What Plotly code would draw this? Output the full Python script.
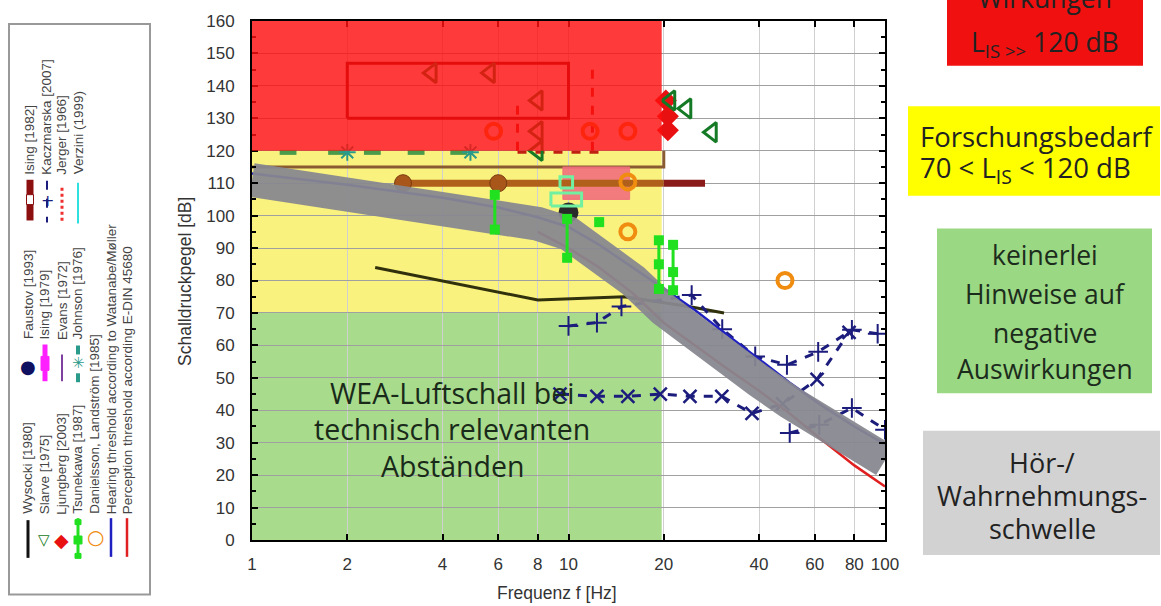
import plotly.graph_objects as go

# ---------------- data ----------------
band_f = [1, 2, 4, 6, 8, 10, 12.5, 16, 20, 25, 31.5, 40, 50, 63, 80, 100]
band_db = [111, 107, 103, 100, 97.5, 94.5, 89, 80, 71, 63, 56, 49, 42.5, 35.5, 29.5, 24.5]

hear_f = [1, 2, 4, 6, 8, 10, 12.5, 16, 20, 25, 31.5, 40, 50, 63, 80, 100]
hear_db = [113, 109.5, 105.5, 102.5, 99.5, 96.5, 91, 84, 77.5, 71, 63.5, 55.5, 48.5, 41.5, 35, 29.5]

perc_f = [8, 10, 12.5, 16, 20, 25, 31.5, 40, 50, 63, 80, 100]
perc_db = [95, 90, 84, 76, 67, 60, 53, 46, 39, 31, 23, 16.5]

wys_f = [2.45, 8.0, 15.0, 24.0, 31.0]
wys_db = [84, 74, 75, 72, 70]

ising82_f = [3, 20]
ising82_db = [110, 110]
ising82_tail_f = [20, 27]
ising82_tail_db = [110, 110]
ising82_mark_f = [3, 6]
ising82_mark_db = [110, 110]

ising82b_rect_f = [2, 10, 10, 2, 2]
ising82b_rect_db = [130, 130, 147, 147, 130]

ising79_f = [9.6, 15.6, 15.6, 9.6, 9.6]
ising79_db = [105, 105, 115, 115, 105]

evans_f = [1, 20, 20]
evans_db = [115, 115, 120]

verzini_f = [8.8, 11, 11, 8.8, 8.8, None, 9.4, 10.3, 10.3, 9.4, 9.4]
verzini_db = [103, 103, 107, 107, 103, None, 108.5, 108.5, 112, 112, 108.5]

faustov_f = [10]
faustov_db = [101]

tsun_f = [5.85, 5.85, None, 9.9, 9.9, None, 12.5, None, 19.3, 19.3, 19.3, None, 21.4, 21.4, 21.4]
tsun_db = [106.4, 95.7, None, 99, 87, None, 98, None, 92.4, 85, 77.4, None, 91, 82.6, 77]

ljung_f = [20.3, 20.6, 20.6]
ljung_db = [135.5, 130.6, 126.3]

slarve_f = [21.0, 23.6, 28.4, 3.7, 5.65, 8.0, 8.0, 8.0]
slarve_db = [135.5, 133, 125.7, 144, 144, 135.5, 126, 120]

dan_f = [5.8, 11.7, 15.4, 15.4, 15.4, 48.3]
dan_db = [126, 126, 126, 110.4, 95, 80]

johnson_dash_f = [1.3, 1.85, 2.4, 3.3, 4.5]
johnson_dash_db = [119.5, 119.5, 119.5, 119.5, 119.5]
johnson_ast_f = [2.0, 4.9]
johnson_ast_db = [119.5, 119.5]

jerger_f = [6.9, 6.9, None, 11.9, 11.9, None, 6.9, 12.5]
jerger_db = [120, 136, None, 120, 147, None, 119.5, 119.5]

kacz_a_f = [10, 12.3, 14.7, 24.5, 30.6, 38.9, 49, 61.5, 78.6, 94.8]
kacz_a_db = [66, 67, 72, 75.5, 65, 56.6, 54, 58, 64.8, 63.6]
kacz_b_f = [9.4, 12.3, 15.4, 19.5, 24.2, 30.5, 38, 47.5, 61, 77]
kacz_b_db = [45, 44.3, 44.3, 45, 44.3, 44.3, 39, 42, 49.5, 64]
kacz_c_f = [50, 62, 78.6, 100]
kacz_c_db = [33, 35.5, 40.7, 34]

x_ticks = [1, 2, 4, 6, 8, 10, 20, 40, 60, 80, 100]
x_ticklabels = ["1", "2", "4", "6", "8", "10", "20", "40", "60", "80", "100"]

# ---------------- layout helpers ----------------
W, H = 1161, 606
L, R, T, B = 252, 885, 17, 540


def px(x):
    return (x - L) / (R - L)


def py(y):
    return (B - y) / (B - T)


fig = go.Figure()

navy = "#1c1c7c"


def add(x, y, **kw):
    fig.add_trace(go.Scatter(x=x, y=y, showlegend=False, hoverinfo="skip", **kw))


# data under the band
add(ising82b_rect_f, ising82b_rect_db, mode="lines", line=dict(color="#6a0000", width=3))
add(jerger_f, jerger_db, mode="lines", line=dict(color="#c02010", width=3, dash="dash"))
add(evans_f, evans_db, mode="lines", line=dict(color="#8a5a30", width=3))
add(ising79_f, ising79_db, mode="lines", fill="toself", fillcolor="rgba(240,110,125,0.9)",
    line=dict(color="rgba(240,110,125,0.9)", width=1))
add(wys_f, wys_db, mode="lines", line=dict(color="#30300c", width=3))
add(kacz_a_f, kacz_a_db, mode="lines+markers", line=dict(color=navy, width=3, dash="dash"),
    marker=dict(symbol="cross-thin-open", size=14, color=navy, line=dict(color=navy, width=2)))
add(kacz_b_f, kacz_b_db, mode="lines+markers", line=dict(color=navy, width=3, dash="dash"),
    marker=dict(symbol="x-thin-open", size=13, color=navy, line=dict(color=navy, width=2.5)))
add(kacz_c_f, kacz_c_db, mode="lines+markers", line=dict(color=navy, width=3, dash="dash"),
    marker=dict(symbol="cross-thin-open", size=14, color=navy, line=dict(color=navy, width=2)))
add(ising82_f, ising82_db, mode="lines", line=dict(color="#b0601a", width=7))
add(ising82_tail_f, ising82_tail_db, mode="lines", line=dict(color="#8b1a1a", width=7))
add(ising82_mark_f, ising82_mark_db, mode="markers",
    marker=dict(symbol="circle", size=17, color="#a8561a", line=dict(color="#7a3a10", width=1)))
add(faustov_f, faustov_db, mode="markers", marker=dict(symbol="circle", size=20, color="#2a2a2a"))
add(hear_f, hear_db, mode="lines", line=dict(color="#2020c0", width=2.5))
add(perc_f, perc_db, mode="lines", line=dict(color="#e02020", width=2.5))

# grey hearing band
add(band_f, band_db, mode="lines", line=dict(color="rgba(135,135,143,0.94)", width=34))

# data above the band
add(verzini_f, verzini_db, mode="lines", line=dict(color="#70f0a0", width=3))
add(tsun_f, tsun_db, mode="lines+markers", line=dict(color="#20e020", width=3),
    marker=dict(symbol="square", size=10, color="#20e020"))
add(johnson_dash_f, johnson_dash_db, mode="markers",
    marker=dict(symbol="line-ew-open", size=12, color="#4a9a4a", line=dict(color="#4a9a4a", width=5)))
add(johnson_ast_f, johnson_ast_db, mode="markers",
    marker=dict(symbol="asterisk-open", size=14, color="#2a9a8a", line=dict(color="#2a9a8a", width=2)))
add(dan_f, dan_db, mode="markers",
    marker=dict(symbol="circle-open", size=15, color="#f08c10", line=dict(color="#f08c10", width=4)))
add(ljung_f, ljung_db, mode="markers",
    marker=dict(symbol="diamond", size=17, color="#e81010"))
add(slarve_f, slarve_db, mode="markers",
    marker=dict(symbol="triangle-left-open", size=17, color="#157a25", line=dict(color="#157a25", width=3)))

shapes = []
# zones
shapes.append(dict(type="rect", xref="x", yref="y", x0=1, x1=19.7, y0=0, y1=70,
                   fillcolor="#a8dc8c", line=dict(width=0), layer="below"))
shapes.append(dict(type="rect", xref="x", yref="y", x0=1, x1=19.7, y0=70, y1=120,
                   fillcolor="#f9f27e", line=dict(width=0), layer="below"))
shapes.append(dict(type="rect", xref="x", yref="y", x0=1, x1=19.7, y0=120, y1=160,
                   fillcolor="#ff0f0f", opacity=0.82, line=dict(width=0), layer="above"))

annotations = []


def box(x0, x1, y0, y1, color):
    shapes.append(dict(type="rect", xref="paper", yref="paper", x0=px(x0), x1=px(x1),
                       y0=py(y1), y1=py(y0), fillcolor=color, line=dict(width=0)))


def txt(x, y, s, size=26.5, color="#222", xanchor="center", family="Open Sans"):
    annotations.append(dict(xref="paper", yref="paper", x=px(x), y=py(y), text=s,
                            showarrow=False, xanchor=xanchor, yanchor="middle",
                            font=dict(size=size, color=color, family=family)))


box(947, 1143, -5, 62, "#f01010")
txt(1045, -6, "Wirkungen")
txt(1045, 40, "L<sub>IS >></sub> 120 dB")
box(908, 1160, 103, 193, "#ffff00")
txt(918, 133, "Forschungsbedarf", size=27.5, xanchor="left")
txt(918, 167, "70 < L<sub>IS</sub> < 120 dB", size=27.5, xanchor="left")
box(937, 1152, 226, 392, "#9ad884")
for yy, s in zip([253, 292, 331, 368], ["keinerlei", "Hinweise auf", "negative", "Auswirkungen"]):
    txt(1045, yy, s, color="#1c2c1c")
box(923, 1160, 430, 555, "#d2d2d2")
for yy, s in zip([462, 495, 528], ["Hör-/", "Wahrnehmungs-", "schwelle"]):
    txt(1042, yy, s, size=27)

# text in green zone
for yy, s in zip([392, 428, 465], ["WEA-Luftschall bei", "technisch relevanten", "Abständen"]):
    txt(452, yy, s, size=28.5, color="#1a2a1a")

# axis titles
annotations.append(dict(xref="paper", yref="paper", x=px(557), y=py(593), text="Frequenz f [Hz]",
                        showarrow=False, xanchor="center", yanchor="middle",
                        font=dict(size=17.5, color="#333", family="Liberation Sans")))
annotations.append(dict(xref="paper", yref="paper", x=px(185), y=py(280), text="Schalldruckpegel [dB]",
                        showarrow=False, xanchor="center", yanchor="middle", textangle=-90,
                        font=dict(size=17.5, color="#333", family="Liberation Sans")))

# legend box
shapes.append(dict(type="rect", xref="paper", yref="paper", x0=px(9), x1=px(150), y0=py(595), y1=py(20),
                   line=dict(color="#999", width=2), fillcolor="white"))


def ltext(x, y, s):
    annotations.append(dict(xref="paper", yref="paper", x=px(x), y=py(y), text=s, showarrow=False,
                            xanchor="center", yanchor="bottom", textangle=-90,
                            font=dict(size=13.5, color="#444", family="Liberation Sans")))


def lline(x, y0, y1, color, width=2, dash="solid"):
    shapes.append(dict(type="line", xref="paper", yref="paper", x0=px(x), x1=px(x), y0=py(y0), y1=py(y1),
                       line=dict(color=color, width=width, dash=dash)))


def lsym(x, y, s, color, size=16):
    annotations.append(dict(xref="paper", yref="paper", x=px(x), y=py(y), text=s, showarrow=False,
                            xanchor="center", yanchor="middle",
                            font=dict(size=size, color=color, family="DejaVu Sans")))


def lbox(x, y, w, h, color, line=None):
    shapes.append(dict(type="rect", xref="paper", yref="paper", x0=px(x - w / 2), x1=px(x + w / 2),
                       y0=py(y + h / 2), y1=py(y - h / 2), fillcolor=color,
                       line=dict(color=line or color, width=1)))


# bottom group
ltext(28, 516, "Wysocki [1980]")
lline(28, 520, 558, "#111", 3)
ltext(44, 516, "Slarve [1975]")
lsym(44, 540, "▽", "#157a25", 15)
ltext(62, 516, "Ljungberg [2003]")
lsym(62, 540, "◆", "#e81010", 19)
ltext(78, 516, "Tsunekawa [1987]")
lline(78, 518, 558, "#20e020", 3)
lbox(78, 522, 6, 5, "#20e020")
lbox(78, 540, 8, 8, "#20e020")
lbox(78, 556, 6, 5, "#20e020")
ltext(95, 516, "Danielsson, Landström [1985]")
lsym(95, 537, "○", "#f08c10", 20)
ltext(111, 516, "Hearing threshold according to Watanabe/Møller")
lline(111, 518, 557, "#2020c0", 2.5)
ltext(127, 516, "Perception threshold according E-DIN 45680")
lline(127, 518, 557, "#e02020", 2.5)

# middle group
ltext(28, 340, "Faustov [1993]")
lsym(28, 365, "●", "#101060", 18)
ltext(45, 340, "Ising [1979]")
lline(45, 343, 380, "#ff20ff", 5)
lbox(45, 362, 8, 14, "#ff20ff")
ltext(62, 340, "Evans [1972]")
lline(62, 353, 380, "#8040a0", 2)
ltext(78, 340, "Johnson [1976]")
lline(78, 344, 353, "#2a9a8a", 4)
lline(78, 372, 381, "#2a9a8a", 4)
lsym(78, 362, "✳", "#2a9a8a", 15)

# top group
ltext(30, 174, "Ising [1982]")
lline(30, 177, 218, "#8b0f0f", 7)
lbox(30, 197, 7, 10, "white", "#8b0f0f")
ltext(47, 174, "Kaczmarska [2007]")
lline(47, 178, 220, navy, 2, "dash")
lsym(47, 198, "+", navy, 16)
ltext(62, 174, "Jerger [1966]")
lline(62, 185, 221, "#f03030", 3, "dot")
ltext(78, 174, "Verzini (1999)")
lline(78, 180, 221, "#30e0e0", 2)

fig.update_layout(
    width=W, height=H,
    margin=dict(l=L, r=W - R, t=T, b=H - B, pad=0),
    paper_bgcolor="white", plot_bgcolor="white",
    shapes=shapes, annotations=annotations,
    xaxis=dict(type="log", range=[0, 2], tickvals=x_ticks, ticktext=x_ticklabels,
               ticks="inside", ticklen=6, tickwidth=1.5, tickcolor="black",
               showline=True, linecolor="black", linewidth=2, mirror="ticks",
               showgrid=True, gridcolor="#d0d0d0", gridwidth=1, zeroline=False,
               tickfont=dict(size=17, color="#333", family="Liberation Sans"),
               ticklabelstandoff=8),
    yaxis=dict(range=[0, 160], dtick=10, ticks="inside", ticklen=6, tickwidth=1.5, tickcolor="black",
               showline=True, linecolor="black", linewidth=2, mirror="ticks",
               showgrid=True, gridcolor="#a0a0a0", gridwidth=1, zeroline=False,
               minor=dict(ticks="inside", dtick=5, ticklen=4, tickcolor="black"),
               tickfont=dict(size=17, color="#333", family="Liberation Sans"),
               ticklabelstandoff=12),
)

fig.write_html("out.html", config={"displayModeBar": False},
               post_script="document.body.style.margin='0';document.body.style.overflow='hidden';")
